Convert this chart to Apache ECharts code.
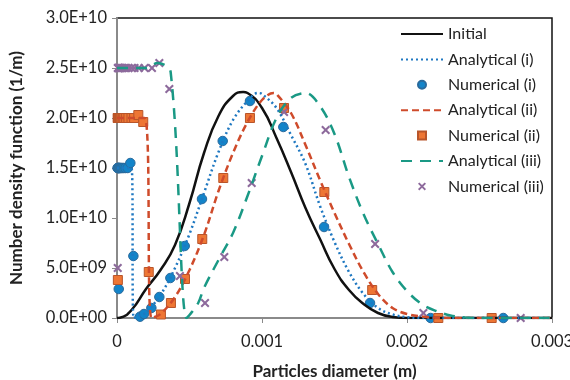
<!DOCTYPE html>
<html>
<head>
<meta charset="utf-8">
<script src="https://cdn.jsdelivr.net/npm/echarts@6/dist/echarts.min.js"></script>
<style>
  html, body { margin: 0; padding: 0; background: #fff; }
  #chart { width: 570px; height: 380px; }
</style>
</head>
<body>
<div id="chart"></div>
<script>
// Particle size distribution: initial profile, analytical solutions and numerical results

const xTicks = [0, 0.001, 0.002, 0.003];
const yTicks = [0, 5e9, 1e10, 1.5e10, 2e10, 2.5e10, 3e10];

// Initial distribution
const initialX = [0, 0.00002, 0.0001, 0.0002, 0.0003, 0.0004, 0.0005, 0.0006, 0.0007, 0.0008, 0.00087, 0.0009, 0.001, 0.0011, 0.0012, 0.0013, 0.0014, 0.0015, 0.0016, 0.0017, 0.0018, 0.0019, 0.002, 0.003];
const initialY = [0, 0.03e9, 0.8e9, 2.9e9, 4.8e9, 7.3e9, 1.15e10, 1.65e10, 2.02e10, 2.22e10, 2.26e10, 2.25e10, 2.1e10, 1.8e10, 1.46e10, 1.1e10, 7.9e9, 4.9e9, 2.8e9, 1.4e9, 0.5e9, 0.1e9, 0, 0];

// Analytical (i)
const anaX1 = [0, 0.0001, 0.000115, 0.00015, 0.0002, 0.0003, 0.0004, 0.0005, 0.0006, 0.0007, 0.0008, 0.0009, 0.00097, 0.001, 0.0011, 0.0012, 0.0013, 0.0014, 0.0015, 0.0016, 0.0017, 0.0018, 0.0019, 0.002, 0.0021, 0.003];
const anaY1 = [1.5e10, 1.5e10, 0, 0.2e9, 0.55e9, 2.3e9, 5.0e9, 8.4e9, 1.25e10, 1.66e10, 1.98e10, 2.17e10, 2.25e10, 2.24e10, 2.1e10, 1.83e10, 1.54e10, 1.12e10, 7.6e9, 4.6e9, 2.4e9, 1.0e9, 0.35e9, 0.08e9, 0, 0];

// Numerical (i)
const numX1 = [0.000004, 0.0000063, 0.000008, 0.00001, 0.000013, 0.0000155, 0.000012, 0.000019, 0.000024, 0.00003, 0.000038, 0.000047, 0.000059, 0.000074, 0.000092, 0.000113, 0.000159, 0.000186, 0.000237, 0.000292, 0.000368, 0.000467, 0.000586, 0.000729, 0.000917, 0.001147, 0.001428, 0.001745, 0.002163, 0.002664];
const numY1 = [1.5e10, 1.5e10, 1.5e10, 1.5e10, 1.5e10, 1.5e10, 2.9e9, 1.5e10, 1.5e10, 1.5e10, 1.5e10, 1.5e10, 1.5e10, 1.5e10, 1.55e10, 6.2e9, 0.13e9, 0.4e9, 1.0e9, 2.1e9, 4.0e9, 7.2e9, 1.19e10, 1.77e10, 2.17e10, 1.91e10, 9.1e9, 1.5e9, 0, 0];

// Analytical (ii)
const anaX2 = [0, 0.00019, 0.000238, 0.0003, 0.0004, 0.0005, 0.0006, 0.0007, 0.0008, 0.0009, 0.001, 0.00108, 0.0011, 0.0012, 0.0013, 0.0014, 0.0015, 0.0016, 0.0017, 0.0018, 0.0019, 0.002, 0.0021, 0.0022, 0.0023, 0.003];
const anaY2 = [2.0e10, 2.0e10, 0, 0.4e9, 2.1e9, 4.8e9, 8.3e9, 1.27e10, 1.65e10, 1.96e10, 2.18e10, 2.25e10, 2.24e10, 2.05e10, 1.73e10, 1.38e10, 1.05e10, 7.4e9, 4.6e9, 2.4e9, 1.0e9, 0.4e9, 0.15e9, 0.03e9, 0, 0];

// Numerical (ii)
const numX2 = [0.000005, 0.0000063, 0.000008, 0.00001, 0.0000126, 0.000016, 0.00002, 0.000025, 0.0000315, 0.00004, 0.00005, 0.000063, 0.000079, 0.0001, 0.000118, 0.000006, 0.000147, 0.000181, 0.000219, 0.000303, 0.000372, 0.000469, 0.000588, 0.000733, 0.000917, 0.001152, 0.00143, 0.00176, 0.002216, 0.002584];
const numY2 = [2.0e10, 2.0e10, 2.0e10, 2.0e10, 2.0e10, 2.0e10, 2.0e10, 2.0e10, 2.0e10, 2.0e10, 2.0e10, 2.0e10, 2.0e10, 2.0e10, 2.0e10, 3.8e9, 2.03e10, 1.96e10, 4.6e9, 0.35e9, 1.5e9, 3.9e9, 7.9e9, 1.4e10, 2.0e10, 2.1e10, 1.26e10, 2.8e9, 0, 0];

// Analytical (iii)
const anaX3 = [0, 0.0002, 0.00028, 0.00037, 0.00048, 0.0005, 0.00056, 0.0006, 0.0007, 0.0008, 0.0009, 0.001, 0.0011, 0.0012, 0.0013, 0.0014, 0.0015, 0.0016, 0.0017, 0.0018, 0.0019, 0.002, 0.0021, 0.0022, 0.0023, 0.0024, 0.0025, 0.003];
const anaY3 = [2.5e10, 2.5e10, 2.55e10, 2.46e10, 0, 0.3e9, 1.5e9, 3.0e9, 5.8e9, 8.5e9, 1.22e10, 1.62e10, 2.0e10, 2.2e10, 2.25e10, 2.12e10, 1.84e10, 1.41e10, 1.04e10, 7.4e9, 4.6e9, 2.7e9, 1.4e9, 0.7e9, 0.25e9, 0.05e9, 0, 0];

// Numerical (iii)
const numX3 = [0.000006, 0.000008, 0.00001, 0.0000126, 0.000016, 0.00002, 0.000025, 0.0000315, 0.00004, 0.00005, 0.000063, 0.000079, 0.0001, 0.000121, 0.00015, 0.00019, 0.000241, 0.000005, 0.000292, 0.000361, 0.000434, 0.000607, 0.00074, 0.000929, 0.001152, 0.001439, 0.00178, 0.002113, 0.002784];
const numY3 = [2.5e10, 2.5e10, 2.5e10, 2.5e10, 2.5e10, 2.5e10, 2.5e10, 2.5e10, 2.5e10, 2.5e10, 2.5e10, 2.5e10, 2.5e10, 2.5e10, 2.5e10, 2.5e10, 2.5e10, 5.0e9, 2.55e10, 2.29e10, 4.2e9, 1.5e9, 6.1e9, 1.35e10, 2.06e10, 1.88e10, 7.4e9, 0.5e9, 0];

const legendNames = ['Initial', 'Analytical (i)', 'Numerical (i)', 'Analytical (ii)', 'Numerical (ii)', 'Analytical (iii)', 'Numerical (iii)'];

const pairs = (xs, ys) => xs.map((x, i) => [x, ys[i]]);

const FONT = 'Lato, "Liberation Sans", sans-serif';
const AXIS_GREY = '#8a8a8a';

function sci(v) {
  if (v === 0) return '0.0E+00';
  const e = Math.floor(Math.log10(v) + 1e-9);
  const m = v / Math.pow(10, e);
  return m.toFixed(1) + 'E+' + String(e).padStart(2, '0');
}

const crossPath = 'path://M0,1.6L1.6,0L5,3.4L8.4,0L10,1.6L6.6,5L10,8.4L8.4,10L5,6.6L1.6,10L0,8.4L3.4,5Z';
const squarePath = 'path://M0,0L10,0L10,10L0,10Z';

const chart = echarts.init(document.getElementById('chart'), null, { renderer: 'canvas' });

const lineSeries = (name, data, color, type, width, smooth) => ({
  name, type: 'line', data, symbol: 'none', smooth,
  lineStyle: { color, width, type }, itemStyle: { color },
  animation: false
});

const scatterSeries = (name, data, symbol, fill, border, size) => ({
  name, type: 'scatter', data, symbol, symbolSize: size, clip: false,
  itemStyle: { color: fill, borderColor: border, borderWidth: symbol === crossPath ? 0 : 1, opacity: 1 },
  animation: false
});

// legend entries: line items keep only their stroke
const legendData = legendNames.map(n => n.startsWith('Numerical')
  ? { name: n }
  : { name: n, itemStyle: { color: 'rgba(0,0,0,0)', borderColor: 'rgba(0,0,0,0)', borderWidth: 0 } });

chart.setOption({
  backgroundColor: '#fff',
  animation: false,
  textStyle: { fontFamily: FONT },
  grid: {
    left: 117, top: 18, right: 18, bottom: 62,
    outerBoundsMode: 'none', containLabel: false,
    show: true, borderColor: '#111', borderWidth: 1.5, backgroundColor: 'transparent'
  },
  legend: {
    orient: 'vertical', left: 395, top: 21,
    itemWidth: 42, itemHeight: 8, itemGap: 9.4,
    textStyle: { fontFamily: FONT, fontSize: 16, color: '#222' },
    data: legendData
  },
  xAxis: {
    type: 'value', min: xTicks[0], max: xTicks[xTicks.length - 1], interval: 0.001,
    name: 'Particles diameter (m)', nameLocation: 'middle', nameGap: 45,
    nameTextStyle: { fontFamily: FONT, fontSize: 17, fontWeight: 'bold', color: '#222' },
    axisLine: { show: true, lineStyle: { color: AXIS_GREY, width: 2 } },
    axisTick: { show: true, inside: false, length: 5, lineStyle: { color: AXIS_GREY, width: 1 } },
    splitLine: { show: false },
    axisLabel: {
      fontFamily: FONT, fontSize: 16.5, color: '#222', margin: 15,
      formatter: v => (v === 0 ? '0' : v.toFixed(3))
    }
  },
  yAxis: {
    type: 'value', min: yTicks[0], max: yTicks[yTicks.length - 1], interval: 5e9,
    name: 'Number density function (1/m)', nameLocation: 'middle', nameGap: 92, nameRotate: 90,
    nameTextStyle: { fontFamily: FONT, fontSize: 17, fontWeight: 'bold', color: '#222' },
    axisLine: { show: true, lineStyle: { color: AXIS_GREY, width: 2 } },
    axisTick: { show: true, inside: false, length: 5, lineStyle: { color: AXIS_GREY, width: 1 } },
    splitLine: { show: false },
    axisLabel: { fontFamily: FONT, fontSize: 16.5, color: '#222', margin: 10, formatter: sci }
  },
  series: [
    lineSeries('Initial', pairs(initialX, initialY), '#111111', 'solid', 2.5, 0.5),
    lineSeries('Analytical (i)', pairs(anaX1, anaY1), '#1f78c1', [2, 3], 2.5, 0.35),
    scatterSeries('Numerical (i)', pairs(numX1, numY1), 'circle', '#1384c9', '#2a6a9c', 9.5),
    lineSeries('Analytical (ii)', pairs(anaX2, anaY2), '#cf4b2b', [7, 4], 2.5, 0.35),
    scatterSeries('Numerical (ii)', pairs(numX2, numY2), squarePath, '#ee7634', '#b8552a', 9),
    lineSeries('Analytical (iii)', pairs(anaX3, anaY3), '#1a9985', [11, 8], 2.5, 0.35),
    scatterSeries('Numerical (iii)', pairs(numX3, numY3), crossPath, '#8d6a9c', '#8d6a9c', 9)
  ]
});
</script>
</body>
</html>
